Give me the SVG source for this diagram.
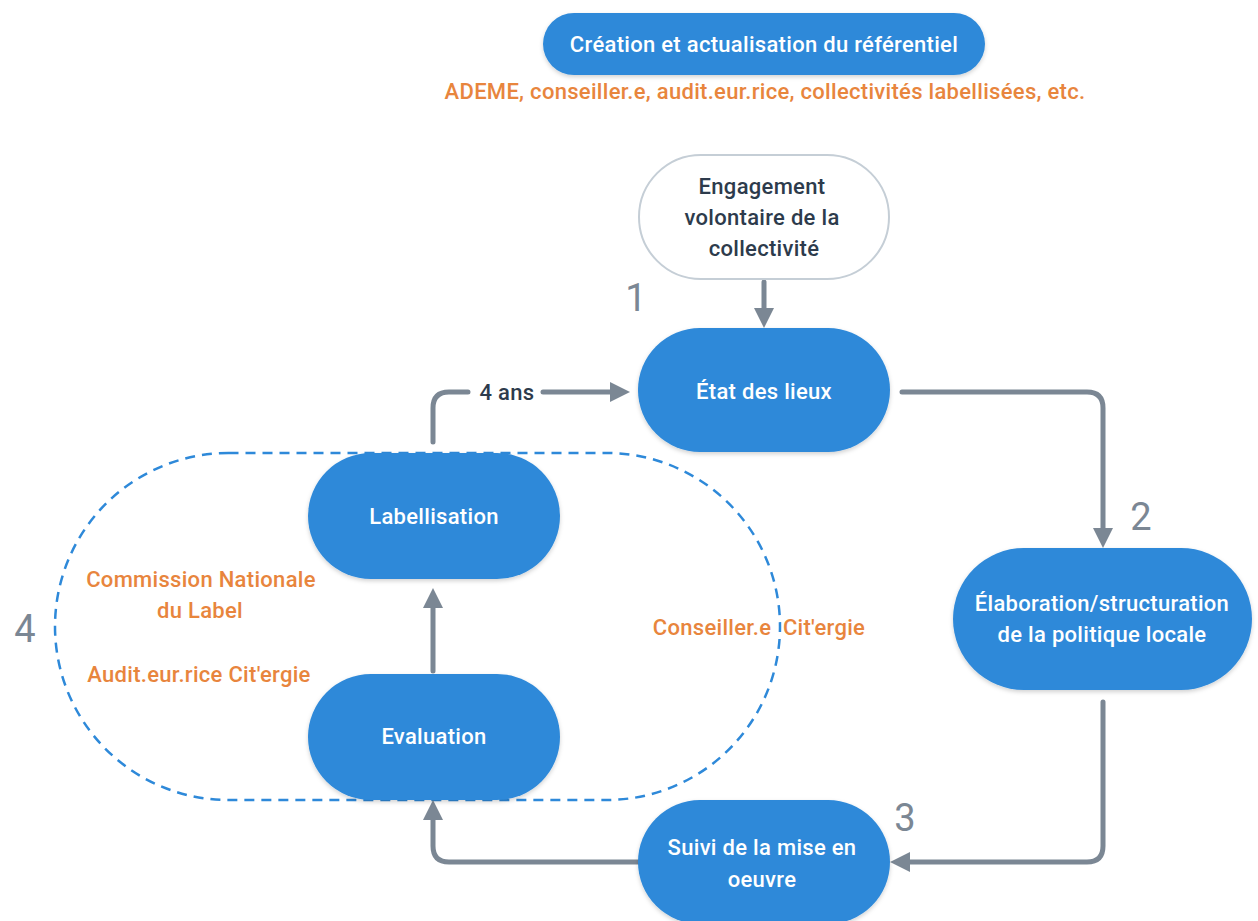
<svg xmlns="http://www.w3.org/2000/svg" width="1258" height="921" viewBox="0 0 1258 921">
<style>
.blue{fill:#2E89D9;}
.wt{fill:#ffffff;font-family:Roboto,"Noto Sans",sans-serif;font-weight:500;font-size:22px;letter-spacing:0.3px;text-anchor:middle;}
.dk{fill:#2d3b4c;font-family:Roboto,"Noto Sans",sans-serif;font-weight:500;font-size:22px;letter-spacing:0.3px;text-anchor:middle;}
.or{fill:#E8853D;font-family:Roboto,"Noto Sans",sans-serif;font-weight:500;font-size:22px;letter-spacing:0.3px;text-anchor:middle;}
.num{fill:#7b8794;font-family:Roboto,"Noto Sans",sans-serif;font-weight:400;font-size:38px;text-anchor:middle;}
.con{fill:none;stroke:#7b8794;stroke-width:5;stroke-linecap:round;stroke-linejoin:round;}
</style>
<defs>
<marker id="ah" viewBox="0 0 10 10" refX="6" refY="5" markerWidth="4" markerHeight="4" markerUnits="strokeWidth" orient="auto">
<path d="M0,0 L10,5 L0,10 Z" fill="#7b8794"/>
</marker>
<filter id="sh" x="-10%" y="-10%" width="120%" height="130%">
<feDropShadow dx="0" dy="2" stdDeviation="2" flood-color="#000" flood-opacity="0.18"/>
</filter>
</defs>
<rect width="1258" height="921" fill="#ffffff"/>

<g id="container">
<rect x="55" y="453" width="725" height="347" rx="173.5" ry="173.5" fill="none" stroke="#2E89D9" stroke-width="2.5" stroke-dasharray="10 7"/>
</g>

<g id="connectors">
<path class="con" d="M764,282 L764,320" marker-end="url(#ah)"/>
<path class="con" d="M433,442 L433,408 Q433,392 449,392 L468,392"/>
<path class="con" d="M543,392 L622,392" marker-end="url(#ah)"/>
<path class="con" d="M902,392 L1087,392 Q1103,392 1103,408 L1103,540" marker-end="url(#ah)"/>
<path class="con" d="M1103,702 L1103,846 Q1103,862 1087,862 L898,862" marker-end="url(#ah)"/>
<path class="con" d="M638,862 L449,862 Q433,862 433,846 L433,808" marker-end="url(#ah)"/>
<path class="con" d="M433,671 L433,596" marker-end="url(#ah)"/>
<text class="dk" x="507" y="400">4 ans</text>
</g>

<g id="n-creation">
<rect class="blue" x="543" y="13" width="442" height="62" rx="31" filter="url(#sh)"/>
<text class="wt" x="764" y="52">Création et actualisation du référentiel</text>
<text class="or" x="765" y="99">ADEME, conseiller.e, audit.eur.rice, collectivités labellisées, etc.</text>
</g>

<g id="n-engagement">
<rect x="639" y="155" width="250" height="124" rx="62" fill="#ffffff" stroke="#c5ced6" stroke-width="2"/>
<text class="dk" x="762" y="194">Engagement</text>
<text class="dk" x="762" y="225">volontaire de la</text>
<text class="dk" x="764" y="256">collectivité</text>
</g>

<g id="n-etat">
<rect class="blue" x="638" y="328" width="252" height="124" rx="62" filter="url(#sh)"/>
<text class="wt" x="764" y="399">État des lieux</text>
<text class="num" x="636" y="311">1</text>
</g>

<g id="n-elaboration">
<rect class="blue" x="953" y="548" width="299" height="142" rx="71" filter="url(#sh)"/>
<text class="wt" x="1102" y="611">Élaboration/structuration</text>
<text class="wt" x="1102" y="642">de la politique locale</text>
<text class="num" x="1141" y="530">2</text>
</g>

<g id="n-suivi">
<rect class="blue" x="638" y="800" width="252" height="124" rx="62" filter="url(#sh)"/>
<text class="wt" x="762" y="855">Suivi de la mise en</text>
<text class="wt" x="762" y="887">oeuvre</text>
<text class="num" x="905" y="831">3</text>
</g>

<g id="n-labellisation">
<rect class="blue" x="308" y="453" width="252" height="126" rx="63" filter="url(#sh)"/>
<text class="wt" x="434" y="524">Labellisation</text>
</g>

<g id="n-evaluation">
<rect class="blue" x="308" y="674" width="252" height="126" rx="63" filter="url(#sh)"/>
<text class="wt" x="434" y="744">Evaluation</text>
</g>

<g id="labels">
<text class="or" x="201" y="587">Commission Nationale</text>
<text class="or" x="200" y="618">du Label</text>
<text class="or" x="199" y="682">Audit.eur.rice Cit'ergie</text>
<text class="or" x="759" y="635" xml:space="preserve">Conseiller.e  Cit'ergie</text>
<text class="num" x="25" y="642">4</text>
</g>
</svg>
